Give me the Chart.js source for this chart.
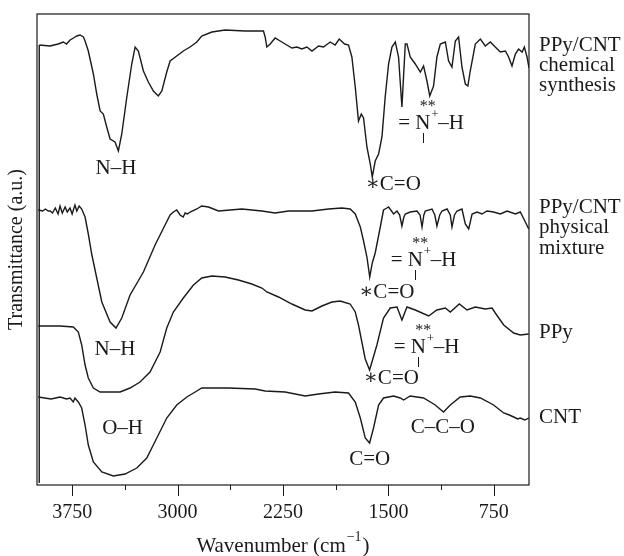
<!DOCTYPE html>
<html>
<head>
<meta charset="utf-8">
<title>FTIR spectra</title>
<script src="https://cdn.jsdelivr.net/npm/chart.js@4.4.0/dist/chart.umd.min.js"></script>
<style>
  html, body { margin: 0; padding: 0; background: #fff; }
  canvas { display: block; }
</style>
</head>
<body>
<canvas id="ftirChart" width="624" height="556"></canvas>
<script>
// Wavenumbers (cm-1) and offset transmittance (a.u.) for each spectrum
const chemWn = [3984,3907,3850,3813,3790,3765,3740,3717,3694,3670,3658,3635,3599,3575,3551,3528,3504,3480,3445,3421,3397,3361,3326,3302,3279,3243,3208,3172,3137,3112,3077,3053,3006,2959,2911,2863,2828,2756,2662,2519,2389,2377,2365,2341,2306,2270,2235,2187,2151,2116,2080,2044,1997,1962,1914,1879,1850,1812,1784,1760,1736,1713,1693,1677,1653,1629,1615,1594,1570,1546,1523,1499,1475,1451,1428,1404,1380,1368,1345,1309,1273,1250,1226,1206,1179,1155,1131,1095,1072,1048,1024,1001,977,953,935,918,882,846,811,775,740,704,668,645,621,597,574,549,533,514,500];
const chemT = [440,439,441,443,441,445,447,449,450,448,444,434,411,391,374,371,358,346,343,334,351,388,421,438,434,414,403,394,389,394,413,424,429,434,438,443,449,453,455,454,454,448,438,441,447,444,441,437,438,436,438,434,439,438,443,440,446,441,440,428,398,364,371,367,338,321,308,324,331,348,388,421,438,443,428,378,441,441,428,421,413,419,404,389,399,428,441,443,424,418,444,448,418,401,399,414,441,446,439,443,438,433,434,428,419,431,436,433,438,428,417];

const physWn = [3991,3960,3940,3920,3907,3890,3870,3850,3836,3820,3800,3785,3765,3750,3730,3717,3700,3682,3670,3658,3635,3611,3575,3539,3480,3438,3397,3338,3243,3160,3089,3053,3030,3006,2982,2960,2946,2930,2911,2863,2828,2780,2709,2543,2400,2306,2211,2044,1926,1831,1772,1736,1700,1677,1653,1633,1615,1594,1558,1535,1511,1499,1463,1439,1420,1404,1390,1380,1345,1297,1275,1261,1248,1238,1190,1170,1155,1135,1119,1083,1060,1048,1030,1012,977,953,929,905,870,834,799,752,704,656,597,562,526,502];
const physT = [275,274,276,274,274,272,277,271,279,272,278,273,277,271,280,274,279,276,272,268,251,231,207,183,163,157,167,190,213,240,260,270,273,275,270,268,272,271,273,276,279,278,274,276,274,272,274,274,276,277,276,271,258,244,228,208,222,232,258,275,277,278,271,274,270,259,268,271,273,274,270,258,270,274,276,270,259,270,274,276,270,258,270,274,276,261,256,271,273,271,274,273,271,274,271,273,263,256];

const ppyWn = [3991,3836,3742,3706,3682,3658,3635,3599,3551,3480,3409,3338,3267,3196,3124,3077,3030,2959,2887,2828,2756,2662,2567,2472,2400,2365,2282,2187,2092,2044,1973,1902,1843,1772,1736,1713,1689,1665,1634,1582,1535,1487,1439,1404,1368,1309,1214,1155,1095,1060,996,941,882,811,763,740,680,609,562,502];
const ppyT = [159,159,158,153,140,120,107,97,93,93,93,97,103,113,133,157,173,187,200,207,209,208,205,201,197,193,188,181,175,174,179,183,184,181,173,160,143,126,115,140,167,177,178,165,178,175,169,175,177,173,181,175,178,176,177,172,160,152,150,151];

const cntWn = [3991,3900,3836,3790,3765,3742,3730,3706,3682,3658,3635,3599,3539,3457,3374,3290,3219,3148,3077,3006,2934,2863,2828,2733,2638,2448,2377,2235,2092,1997,1879,1784,1736,1700,1665,1634,1606,1570,1535,1463,1416,1392,1345,1250,1167,1108,1060,989,918,846,752,680,640,609,580,562,530,502];
const cntT = [88,86,88,86,87,83,87,83,77,60,40,23,13,9,11,17,27,47,67,80,88,94,97,97,97,96,94,93,89,91,93,92,83,67,47,42,57,80,87,89,87,85,89,87,80,73,80,88,89,87,80,72,70,68,66,67,65,67];

// vertical trace at the start of the scans
const edgeWn = [3984, 3984];
const edgeT = [440, 2];

const majorTicks = [3750, 3000, 2250, 1500, 750];
const minorTicks = [3375, 2625, 1875, 1125];

const seriesNames = [
  ['PPy/CNT', 'chemical', 'synthesis'],
  ['PPy/CNT', 'physical', 'mixture'],
  ['PPy'],
  ['CNT']
];

const serif = '"Liberation Serif", "DejaVu Serif", serif';
const ink = '#1a1a1a';

// peak labels, placed in data units
const peakLabels = [
  { text: 'N\u2013H', wn: 3438, t: 317 },
  { text: '\u2217C=O', wn: 1466, t: 301 },
  { text: '\u2217C=O', wn: 1512, t: 193 },
  { text: 'N\u2013H', wn: 3445, t: 136 },
  { text: '\u2217C=O', wn: 1480, t: 107 },
  { text: 'O\u2013H', wn: 3391, t: 57 },
  { text: 'C=O', wn: 1633, t: 26 },
  { text: 'C\u2013C\u2013O', wn: 1113, t: 58 }
];
// "= N+–H" labels, position of the N
const nPlusLabels = [
  { wn: 1256, t: 362 },
  { wn: 1309, t: 225 },
  { wn: 1288, t: 138 }
];
// right-hand names, vertical position of each line
const nameRows = [[440, 420, 400], [278, 258, 237], [153], [68]];

function pts(xs, ys) {
  return xs.map((x, i) => ({ x: x, y: ys[i] }));
}

function lineSet(label, xs, ys) {
  return {
    label: label,
    data: pts(xs, ys),
    borderColor: ink,
    borderWidth: 1.4,
    pointRadius: 0,
    tension: 0,
    fill: false
  };
}

const decorPlugin = {
  id: 'decor',
  afterDraw(chart) {
    const ctx = chart.ctx;
    const area = chart.chartArea;
    const xs = chart.scales.x;
    const ys = chart.scales.y;
    ctx.save();

    // frame
    ctx.strokeStyle = ink;
    ctx.lineWidth = 1.2;
    ctx.strokeRect(area.left, area.top, area.right - area.left, area.bottom - area.top);

    // ticks, outward
    ctx.beginPath();
    majorTicks.forEach(v => {
      const px = Math.round(xs.getPixelForValue(v)) + 0.5;
      ctx.moveTo(px, area.bottom);
      ctx.lineTo(px, area.bottom + 11);
    });
    minorTicks.forEach(v => {
      const px = Math.round(xs.getPixelForValue(v)) + 0.5;
      ctx.moveTo(px, area.bottom);
      ctx.lineTo(px, area.bottom + 5);
    });
    ctx.lineWidth = 1;
    ctx.stroke();

    ctx.fillStyle = ink;
    ctx.textBaseline = 'middle';

    // axis titles
    ctx.font = '20px ' + serif;
    ctx.save();
    ctx.translate(17, (area.top + area.bottom) / 2);
    ctx.rotate(-Math.PI / 2);
    ctx.textAlign = 'center';
    ctx.fillText('Transmittance (a.u.)', 0, 0);
    ctx.restore();

    const main = 'Wavenumber (cm';
    const sup = '\u22121';
    ctx.font = '21px ' + serif;
    const wMain = ctx.measureText(main).width;
    const wClose = ctx.measureText(')').width;
    ctx.font = '14px ' + serif;
    const wSup = ctx.measureText(sup).width;
    let tx = (area.left + area.right) / 2 - (wMain + wSup + wClose + 2) / 2;
    const ty = 546;
    ctx.textAlign = 'left';
    ctx.font = '21px ' + serif;
    ctx.fillText(main, tx, ty);
    ctx.font = '14px ' + serif;
    ctx.fillText(sup, tx + wMain + 1, ty - 9);
    ctx.font = '21px ' + serif;
    ctx.fillText(')', tx + wMain + wSup + 2, ty);

    // peak labels
    ctx.font = '21px ' + serif;
    ctx.textAlign = 'center';
    peakLabels.forEach(l => {
      ctx.fillText(l.text, xs.getPixelForValue(l.wn), ys.getPixelForValue(l.t));
    });

    // = N+–H with ** above and bond line below
    nPlusLabels.forEach(l => {
      const cx = xs.getPixelForValue(l.wn);
      const cy = ys.getPixelForValue(l.t);
      ctx.font = '21px ' + serif;
      const wN = ctx.measureText('N').width;
      ctx.textAlign = 'center';
      ctx.fillText('N', cx, cy);
      ctx.textAlign = 'right';
      ctx.fillText('=', cx - wN / 2 - 5, cy);
      ctx.textAlign = 'left';
      ctx.fillText('\u2013H', cx + wN / 2 + 8, cy);
      ctx.font = '13px ' + serif;
      ctx.fillText('+', cx + wN / 2 + 1, cy - 8);
      ctx.font = '16px ' + serif;
      ctx.textAlign = 'center';
      ctx.fillText('**', cx + 5, cy - 16);
      ctx.beginPath();
      ctx.moveTo(Math.round(cx) + 0.5, cy + 10);
      ctx.lineTo(Math.round(cx) + 0.5, cy + 20);
      ctx.lineWidth = 1;
      ctx.stroke();
    });

    // series names at the right
    ctx.font = '21px ' + serif;
    ctx.textAlign = 'left';
    seriesNames.forEach((lines, i) => {
      lines.forEach((s, j) => {
        ctx.fillText(s, area.right + 10, ys.getPixelForValue(nameRows[i][j]));
      });
    });

    ctx.restore();
  }
};

new Chart(document.getElementById('ftirChart'), {
  type: 'line',
  data: {
    datasets: [
      lineSet('PPy/CNT chemical synthesis', chemWn, chemT),
      lineSet('PPy/CNT physical mixture', physWn, physT),
      lineSet('PPy', ppyWn, ppyT),
      lineSet('CNT', cntWn, cntT),
      lineSet('', edgeWn, edgeT)
    ]
  },
  options: {
    responsive: false,
    animation: false,
    layout: { padding: { left: 37, top: 14, right: 95, bottom: 0 } },
    plugins: {
      legend: { display: false },
      tooltip: { enabled: false }
    },
    scales: {
      x: {
        type: 'linear',
        reverse: true,
        min: 500,
        max: 4000,
        grid: { display: false, drawTicks: false },
        border: { display: false },
        afterBuildTicks: scale => {
          scale.ticks = majorTicks.map(v => ({ value: v }));
        },
        afterFit: scale => { scale.height = 71; },
        ticks: {
          autoSkip: false,
          maxRotation: 0,
          padding: 16,
          color: ink,
          font: { family: serif, size: 20 },
          callback: value => String(value)
        }
      },
      y: {
        display: false,
        min: 0,
        max: 471
      }
    }
  },
  plugins: [decorPlugin]
});
</script>
</body>
</html>
